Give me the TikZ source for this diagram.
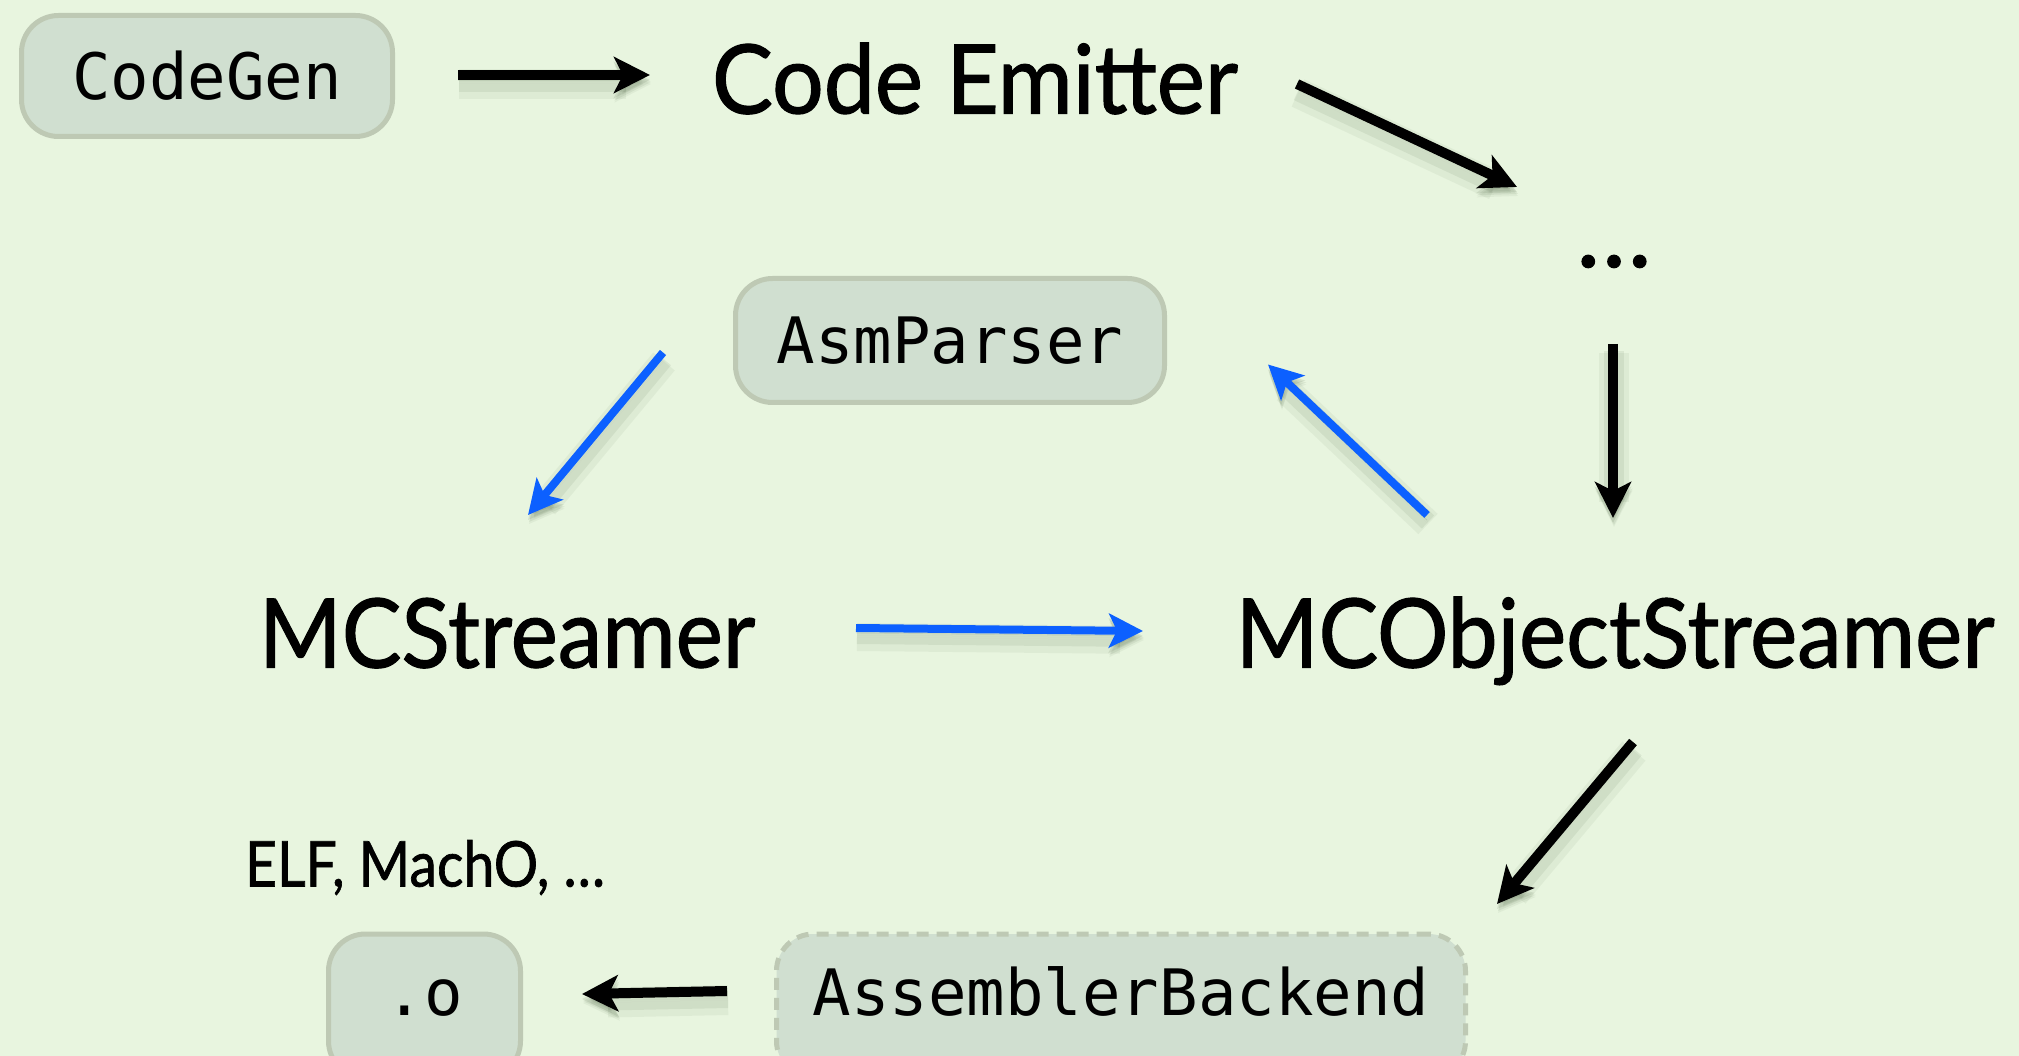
\documentclass[tikz,border=0pt]{standalone}
\usepackage{graphicx}
\usepackage{fontspec}
\setmainfont{Lato}
\newfontfamily\headfont{Lato}[FakeBold=1.2]
\newfontfamily\codefont{DejaVu Sans Mono}
\usetikzlibrary{arrows.meta}

\definecolor{paper}{RGB}{232,245,223}
\definecolor{boxfill}{RGB}{208,223,208}
\definecolor{boxline}{RGB}{190,201,180}
\definecolor{flowblue}{RGB}{12,96,255}
\definecolor{shade}{RGB}{90,110,80}

\tikzset{
  box/.style={draw=boxline, fill=boxfill, line width=5pt, rounded corners=37pt,
    inner sep=0pt, text height=47pt, text depth=0pt,
    font=\codefont\fontsize{64}{64}\selectfont},
  title/.style={inner sep=0pt, text height=69pt, text depth=0pt,
    font=\headfont\fontsize{96}{96}\selectfont},
  note/.style={inner sep=0pt, text height=45pt, text depth=0pt,
    font=\headfont\fontsize{63}{63}\selectfont},
  % soft drop shadow under a connector: wider, faint copies offset downwards
  soft/.style={
    preaction={draw=shade, draw opacity=0.07, fill=shade, fill opacity=0.07,
      line width=\pgflinewidth+10pt, transform canvas={shift={(1pt,-9pt)}}},
    preaction={draw=shade, draw opacity=0.10, fill=shade, fill opacity=0.10,
      line width=\pgflinewidth+5pt, transform canvas={shift={(1pt,-7pt)}}},
    preaction={draw=shade, draw opacity=0.14, fill=shade, fill opacity=0.14,
      transform canvas={shift={(0pt,-5pt)}}}},
  blk/.style={line width=10pt, soft,
    -{Stealth[length=36pt,width=36pt,inset=9pt]}},
  blu/.style={line width=8pt, draw=flowblue, soft,
    -{Stealth[length=34pt,width=34pt,inset=8pt]}}
}

\begin{document}
\begin{tikzpicture}[x=1pt,y=-1pt]
\useasboundingbox (0,0) rectangle (2019,1056);
\clip (0,0) rectangle (2019,1056);
\fill[paper] (0,0) rectangle (2019,1056);

% boxes and labels
\node[box, minimum width=371pt, minimum height=121pt] (codegen) at (207,76) {CodeGen};
\node[title] (emitter) at (975,79) {\scalebox{0.95}[1]{Code Emitter}};
\node[inner sep=0pt, text height=12pt, text depth=0pt, font=\headfont\fontsize{100}{100}\selectfont]
  (dots) at (1614,261) {…};
\node[box, minimum width=429pt, minimum height=124pt] (asmparser) at (950,340.5) {AsmParser};
\node[title] (mcs) at (507,633) {\scalebox{0.93}[1]{MCStreamer}};
\node[title] (mcos) at (1615,633) {\scalebox{0.93}[1]{MCObjectStreamer}};
\node[note] (elf) at (425,864) {\scalebox{0.88}[1]{ELF, MachO, …}};
\node[box, minimum width=192pt, minimum height=144pt, text depth=28pt] (obj) at (424.5,1006) {.o};
\node[box, dashed, dash pattern=on 12pt off 8pt, minimum width=689pt, minimum height=144pt,
  text depth=28pt] (backend) at (1121,1006) {AssemblerBackend};

% code generation flow
\draw[blk] ([shift={(251,-1)}]codegen.center) -- ([shift={(-325,-4)}]emitter.center);
\draw[blk] ([shift={(322,5)}]emitter.center) -- ([shift={(-97,-74)}]dots.center);
\draw[blk] ([shift={(-1,83)}]dots.center) -- ([shift={(-2,-115)}]mcos.center);

% assembler parser loop
\draw[blu] ([shift={(-287,12)}]asmparser.center) -- ([shift={(21,-118)}]mcs.center);
\draw[blu] ([shift={(-188,-118)}]mcos.center) -- ([shift={(318,24)}]asmparser.center);
\draw[blu] ([shift={(349,-5)}]mcs.center) -- ([shift={(-472,-2)}]mcos.center);

% object emission
\draw[blk] ([shift={(18,109)}]mcos.center) -- ([shift={(376,-102)}]backend.center);
\draw[blk] ([shift={(-394,-15)}]backend.center) -- ([shift={(157.5,-12)}]obj.center);
\end{tikzpicture}
\end{document}
